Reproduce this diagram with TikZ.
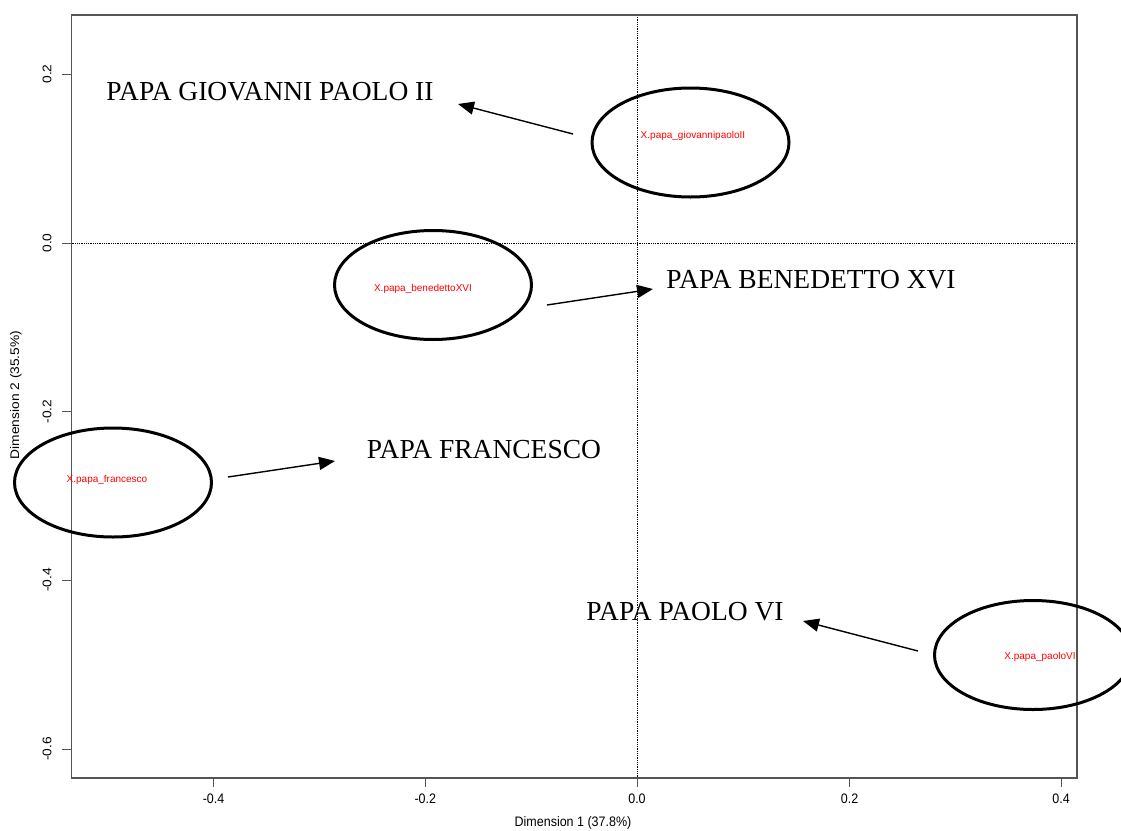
\documentclass[tikz,border=0pt]{standalone}
\usepackage{fontspec}
\setmainfont{Liberation Serif}
\setsansfont{Liberation Sans}
\usetikzlibrary{arrows.meta, positioning, shapes.geometric}
\definecolor{frame}{HTML}{555555}

\tikzset{
  pope/.style={font=\fontsize{27.5}{31}\selectfont, inner sep=0pt},
  pointlab/.style={font=\sffamily\fontsize{10}{11}\selectfont, text=red, inner sep=0pt},
  ring/.style={draw=black, ellipse, line width=3pt, minimum width=197pt, minimum height=109pt, inner sep=0pt},
  pointer/.style={-{Triangle[length=16pt,width=13pt]}, line width=1.4pt},
  ticklab/.style={font=\sffamily\fontsize{12.5}{14}\selectfont, inner sep=0pt, yscale=1.1},
}

\begin{document}
\begin{tikzpicture}[x=1pt, y=-1pt]
\useasboundingbox (0,0) rectangle (1121,830);

% Reference lines through the origin
\draw[densely dotted, line width=0.8pt] (637,15) -- (637,778);
\draw[densely dotted, line width=0.8pt] (71.5,243) -- (1077,243);

% Frame
\draw[frame, line width=1.6pt] (71.5,15) rectangle (1077,778);

% x axis
\foreach \x/\v [count=\i] in {213.6/-0.4, 425.3/-0.2, 637/0.0, 849.6/0.2, 1061/0.4} {
  \draw[frame, line width=1pt] (\x,778) -- (\x,787);
  \node[ticklab] (xl\i) at (\x,799) {\v};
}
\node[ticklab] (xname) at (573,823) {Dimension 1 (37.8\%)};

% y axis
\foreach \y/\v [count=\i] in {74/0.2, 243/0.0, 411.5/-0.2, 580/-0.4, 749/-0.6} {
  \draw[frame, line width=1pt] (71.5,\y) -- (62,\y);
  \node[ticklab, rotate=90] (yl\i) at (47,\y) {\v};
}
\node[ticklab, rotate=90] (yname) at (16,395) {Dimension 2 (35.5\%)};

% Points
\node[pointlab] (pGio) at (693,136) {X.papa\_giovannipaoloII};
\node[pointlab] (pBen) at (423,289) {X.papa\_benedettoXVI};
\node[pointlab] (pFra) at (107,480) {X.papa\_francesco};
\node[pointlab] (pPao) at (1040,657) {X.papa\_paoloVI};

% Circles round the points
\node[ring] (rGio) at (690.5,142.5) {};
\node[ring] (rBen) at (433,285) {};
\node[ring] (rFra) at (113,482.5) {};
\node[ring] (rPao) at (1033,655) {};

% Names
\node[pope] (nGio) at (270,92) {PAPA GIOVANNI PAOLO II};
\node[pope] (nBen) at (811,280) {PAPA BENEDETTO XVI};
\node[pope] (nFra) at (484,450) {PAPA FRANCESCO};
\node[pope] (nPao) at (685,612) {PAPA PAOLO VI};

% Arrow ends
\coordinate (aGio) at (573,134);
\coordinate (bGio) at (458,104);
\coordinate (aBen) at (547,305);
\coordinate (bBen) at (653,289);
\coordinate (aFra) at (228,477);
\coordinate (bFra) at (335,461);
\coordinate (aPao) at (918,651);
\coordinate (bPao) at (803,621);

\draw[pointer] (aGio) -- (bGio);
\draw[pointer] (aBen) -- (bBen);
\draw[pointer] (aFra) -- (bFra);
\draw[pointer] (aPao) -- (bPao);

\end{tikzpicture}
\end{document}
